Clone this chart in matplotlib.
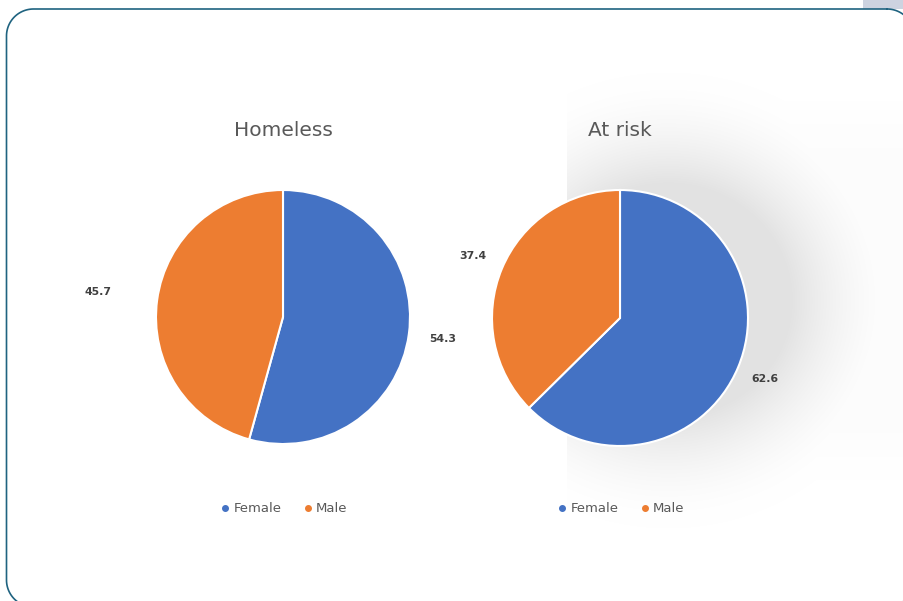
import numpy as np
import matplotlib
matplotlib.use("Agg")
from matplotlib import pyplot as plt
from matplotlib.patches import Rectangle

# data
groups = ["Homeless", "At risk"]
categories = ["Female", "Male"]
homeless = [54.3, 45.7]
at_risk = [62.6, 37.4]
colors = ["#4472C4", "#ED7D31"]

W, H = 904, 601
fig = plt.figure(figsize=(W / 100, H / 100), dpi=100)
fig.patch.set_facecolor("white")


def px_axes(x0, y0, w, h):
    # axes placed by pixel box, y measured from the top like the picture
    return fig.add_axes([x0 / W, (H - y0 - h) / H, w / W, h / H])


def rounded_frame(x0, y0, x1, y1, rad, n=30):
    # outline of a rounded box, image coords (y down)
    pts = []
    corners = [(x1 - rad, y0 + rad, -90, 0), (x1 - rad, y1 - rad, 0, 90),
               (x0 + rad, y1 - rad, 90, 180), (x0 + rad, y0 + rad, 180, 270)]
    for cx, cy, a0, a1 in corners:
        t = np.deg2rad(np.linspace(a0, a1, n))
        pts.append(np.c_[cx + rad * np.cos(t), cy + rad * np.sin(t)])
    pts = np.vstack(pts + [pts[0][:1]])
    return pts[:, 0], pts[:, 1]


# background: faint panel and soft shadow behind the second pie
bg = px_axes(0, 0, W, H)
yy, xx = np.mgrid[0:H, 0:W]
d = np.hypot((xx - 668) * 0.95, yy - 300) - 118
shade = 0.11 * np.clip(1 - d / 110, 0, 1) ** 1.8
shade[xx < 567] = 0.0
fade = np.clip(np.minimum(yy - 100, 480 - yy) / 60, 0, 1)
panel = np.where(xx >= 567, 0.01 * fade, 0.0)
img = 1 - np.maximum(shade, panel)
bg.imshow(np.dstack([img, img, img]), extent=(0, W, H, 0),
          aspect="auto", zorder=0)
bg.set_xlim(0, W)
bg.set_ylim(H, 0)
bg.axis("off")

# frame with rounded corners and the small tab at top right
bg.add_patch(Rectangle((863, 0), 41, 9, facecolor="#CDD3E0", edgecolor="none", zorder=2))
fx, fy = rounded_frame(6.5, 9, 914, 607, 27)
bg.plot(fx, fy, color="#1F6380", lw=1.2, zorder=3)

pies = [
    (homeless, (283, 317), 127, [1.27, 1.47]),
    (at_risk, (620, 318), 128, [1.23, 1.25]),
]

for name, (vals, (cx, cy), r, dists) in zip(groups, pies):
    ax = px_axes(cx - r, cy - r, 2 * r, 2 * r)
    wedges, _ = ax.pie(vals, colors=colors, startangle=90, counterclock=False,
                       wedgeprops=dict(edgecolor="white", linewidth=1.5))
    ax.set_xlim(-1, 1)
    ax.set_ylim(-1, 1)
    for w, v, dist in zip(wedges, vals, dists):
        ang = np.deg2rad((w.theta1 + w.theta2) / 2)
        ax.text(dist * np.cos(ang), dist * np.sin(ang), f"{v:.1f}",
                ha="center", va="center", fontsize=7.8, fontweight="bold",
                color="#404040", clip_on=False)
    fig.text(cx / W, 1 - 130 / H, name, ha="center", va="center",
             fontsize=14.5, color="#595959")
    handles = [plt.Line2D([], [], marker="o", ls="none", ms=4, color=c) for c in colors]
    ax.legend(handles, categories, loc="center",
              bbox_to_anchor=(0.5, -(509 - cy - r) / (2 * r)),
              ncol=2, frameon=False, fontsize=9.5, labelcolor="#595959",
              handletextpad=0.1, columnspacing=1.5, handlelength=1.0)

fig.savefig("out.png", dpi=100)
